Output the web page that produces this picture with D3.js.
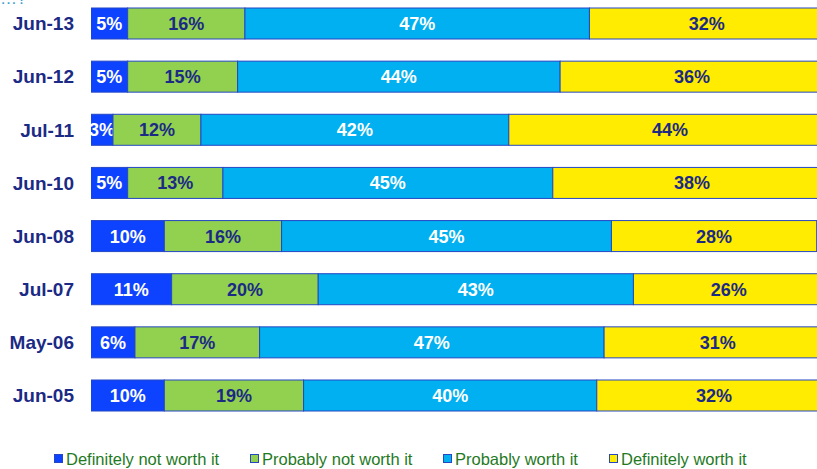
<!DOCTYPE html>
<html>
<head>
<meta charset="utf-8">
<script src="https://cdn.jsdelivr.net/npm/d3@7/dist/d3.min.js"></script>
<style>
  html, body { margin: 0; padding: 0; background: #fff; }
  svg { display: block; font-family: "Liberation Sans", Arial, sans-serif; }
</style>
</head>
<body>
<svg id="chart" width="817" height="469"></svg>
<script>
// Survey waves, top to bottom
const waves = ["Jun-13", "Jun-12", "Jul-11", "Jun-10", "Jun-08", "Jul-07", "May-06", "Jun-05"];

// Answer shares (%) per wave, in the same order as waves
const definitelyNot = [5, 5, 3, 5, 10, 11, 6, 10];
const probablyNot   = [16, 15, 12, 13, 16, 20, 17, 19];
const probably      = [47, 44, 42, 45, 45, 43, 47, 40];
const definitely    = [32, 36, 44, 38, 28, 26, 31, 32];

const seriesNames = ["Definitely not worth it", "Probably not worth it", "Probably worth it", "Definitely worth it"];
const seriesKeys = ["dn", "pn", "pw", "dw"];
const seriesColors = ["#0d42ff", "#92d050", "#00b0f0", "#ffec00"];
const labelColors = ["#ffffff", "#1b2a85", "#ffffff", "#1b2a85"];

const rows = waves.map((w, i) => ({
  wave: w,
  dn: definitelyNot[i],
  pn: probablyNot[i],
  pw: probably[i],
  dw: definitely[i]
}));

const svg = d3.select("#chart");
const W = 817;

const x = d3.scaleLinear().domain([0, 100]).range([91, 824]);
const y = d3.scaleBand().domain(waves).range([-3.07, 422.07])
  .paddingInner(0.4166).paddingOuter(0.2083);

const stack = d3.stack().keys(seriesKeys);
const layers = stack(rows);

// plot area clip: bars and their labels are cut at the left axis and the right edge
svg.append("defs").append("clipPath").attr("id", "plotClip")
  .append("rect").attr("x", 91).attr("y", 0).attr("width", W - 91).attr("height", 430);

// trailing end of the question text above the chart
svg.append("text")
  .attr("x", 0).attr("y", 4)
  .attr("font-size", 17)
  .attr("fill", "#3a9fd0")
  .text("…?");

const plot = svg.append("g").attr("clip-path", "url(#plotClip)");

layers.forEach((layer, li) => {
  const g = plot.append("g");
  g.selectAll("rect")
    .data(layer)
    .join("rect")
    .attr("x", d => x(d[0]))
    .attr("y", d => y(d.data.wave))
    .attr("width", d => x(d[1]) - x(d[0]))
    .attr("height", y.bandwidth())
    .attr("fill", seriesColors[li])
    .attr("stroke", "#2447c4")
    .attr("stroke-width", 1);

  g.selectAll("text")
    .data(layer)
    .join("text")
    .attr("x", d => (x(d[0]) + x(d[1])) / 2)
    .attr("y", d => y(d.data.wave) + y.bandwidth() / 2)
    .attr("dy", "0.36em")
    .attr("text-anchor", "middle")
    .attr("font-size", 18)
    .attr("font-weight", "bold")
    .attr("fill", labelColors[li])
    .text(d => (d[1] - d[0]) + "%");
});

// category axis
const yAxis = svg.append("g").attr("transform", "translate(74,0)")
  .call(d3.axisLeft(y).tickSize(0).tickPadding(0));
yAxis.select(".domain").remove();
yAxis.selectAll("text")
  .attr("font-size", 19)
  .attr("font-weight", "bold")
  .attr("fill", "#1b2a85")
  .attr("font-family", "Liberation Sans, Arial, sans-serif")
  .attr("dy", "0.36em");

// legend
const legendX = [54, 250, 443, 609];
const legend = svg.append("g");
seriesNames.forEach((name, i) => {
  const g = legend.append("g").attr("transform", `translate(${legendX[i]},454)`);
  g.append("rect")
    .attr("x", 0.5).attr("y", 0.5)
    .attr("width", 8).attr("height", 8)
    .attr("fill", seriesColors[i])
    .attr("stroke", "#2447c4")
    .attr("stroke-width", 1);
  g.append("text")
    .attr("x", 12).attr("y", 5)
    .attr("dy", "0.36em")
    .attr("font-size", 16.5)
    .attr("fill", "#1f7a1f")
    .text(name);
});
</script>
</body>
</html>
